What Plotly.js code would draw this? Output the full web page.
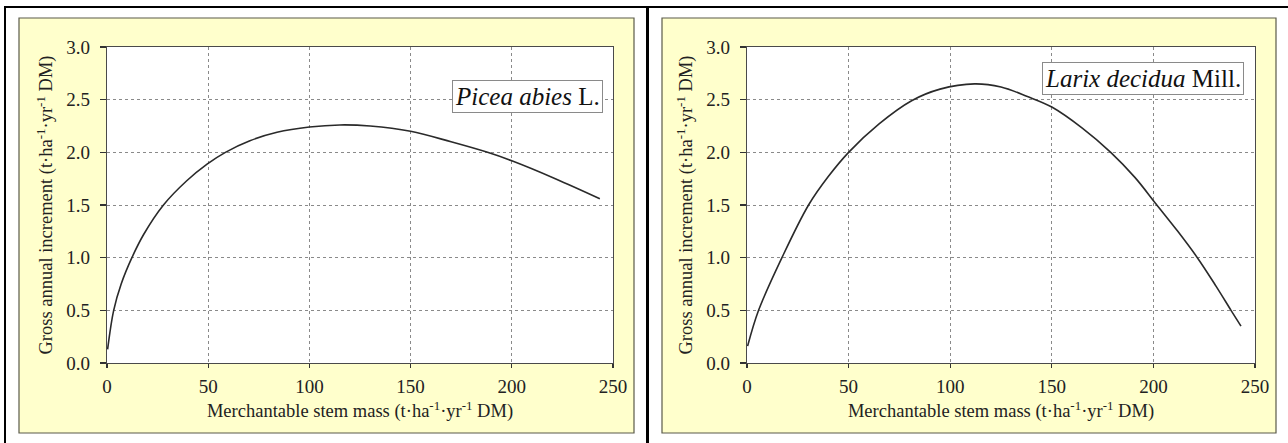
<!DOCTYPE html>
<html>
<head>
<meta charset="utf-8">
<script src="https://cdn.plot.ly/plotly-3.0.1.min.js"></script>
<style>html,body{margin:0;padding:0;background:#fff;}#chart{width:1288px;height:443px;}</style>
</head>
<body>
<div id="chart"></div>
<script>
// Picea abies L. — gross annual increment vs merchantable stem mass
const piceaX = [0.3, 3.3, 7, 12.3, 18.1, 27.9, 39.4, 49.6, 58.5, 70.6, 84, 100, 115, 130, 150, 170, 188, 200, 221.5, 243.5];
const piceaY = [0.13, 0.50, 0.75, 1.00, 1.22, 1.50, 1.73, 1.89, 2.00, 2.11, 2.19, 2.24, 2.26, 2.25, 2.20, 2.10, 2.00, 1.92, 1.75, 1.56];
// Larix decidua Mill.
const larixX = [0.3, 5.7, 17.2, 30.3, 40, 50, 65, 81, 95, 112, 125, 138, 150, 165, 179, 191, 201.3, 212, 221.8, 230.8, 238.2, 243.1];
const larixY = [0.16, 0.50, 1.00, 1.50, 1.77, 2.00, 2.27, 2.49, 2.60, 2.65, 2.62, 2.53, 2.43, 2.23, 2.00, 1.76, 1.51, 1.25, 0.995, 0.73, 0.50, 0.35];

const speciesLabels = ['<i>Picea abies</i> L.', '<i>Larix decidua</i> Mill.'];
const xTitle = 'Merchantable stem mass (t·ha<sup>-1</sup>·yr<sup>-1</sup> DM)';
const yTitle = 'Gross annual increment (t·ha<sup>-1</sup>·yr<sup>-1</sup> DM)';

const W = 1288, H = 443;
const px = v => v / W;
const py = v => 1 - v / H;
const FONT = 'Liberation Serif';
const FS = 19;

const lineStyle = {color: '#2a2a2a', width: 1.6, shape: 'spline', smoothing: 1};
const traces = [
  {x: piceaX, y: piceaY, type: 'scatter', mode: 'lines', line: lineStyle, xaxis: 'x', yaxis: 'y', hoverinfo: 'x+y'},
  {x: larixX, y: larixY, type: 'scatter', mode: 'lines', line: lineStyle, xaxis: 'x2', yaxis: 'y2', hoverinfo: 'x+y'}
];

function xa(domain, anchor) {
  return {
    domain: domain, anchor: anchor, range: [0, 250], dtick: 50, tick0: 0,
    showgrid: true, gridcolor: '#8a8a8a', griddash: 'dot', gridwidth: 1,
    zeroline: false, showline: true, mirror: true, linecolor: '#4a4a4a', linewidth: 1.2,
    ticks: 'outside', ticklen: 4, tickcolor: '#333', tickwidth: 1.2, ticklabelstandoff: 2,
    tickfont: {family: FONT, size: FS, color: '#222'},
    title: {text: xTitle, font: {family: FONT, size: 18.5, color: '#222'}, standoff: 8},
    fixedrange: true
  };
}
function ya(domain, anchor) {
  return {
    domain: domain, anchor: anchor, range: [0, 3], dtick: 0.5, tick0: 0, tickformat: '.1f',
    showgrid: true, gridcolor: '#8a8a8a', griddash: 'dot', gridwidth: 1,
    zeroline: false, showline: true, mirror: true, linecolor: '#4a4a4a', linewidth: 1.2,
    ticks: 'outside', ticklen: 6, tickcolor: '#333', tickwidth: 1.2, ticklabelstandoff: 6,
    tickfont: {family: FONT, size: FS, color: '#222'},
    title: {text: yTitle, font: {family: FONT, size: 18.5, color: '#222'}, standoff: 8},
    fixedrange: true
  };
}

const yDom = [py(363), py(47)];
const shapes = [
  {type: 'rect', xref: 'paper', yref: 'paper', x0: px(19), x1: px(634), y0: py(433), y1: py(18), fillcolor: '#FFFFCC', line: {color: '#5a5a4a', width: 1.2}, layer: 'below'},
  {type: 'rect', xref: 'paper', yref: 'paper', x0: px(662), x1: px(1276), y0: py(433), y1: py(18), fillcolor: '#FFFFCC', line: {color: '#5a5a4a', width: 1.2}, layer: 'below'},
  {type: 'rect', xref: 'paper', yref: 'paper', x0: px(107), x1: px(613), y0: py(363), y1: py(47), fillcolor: '#ffffff', line: {width: 0}, layer: 'below'},
  {type: 'rect', xref: 'paper', yref: 'paper', x0: px(747), x1: px(1255), y0: py(363), y1: py(47), fillcolor: '#ffffff', line: {width: 0}, layer: 'below'},
  {type: 'rect', xref: 'paper', yref: 'paper', x0: px(4), x1: px(1288), y0: py(8), y1: py(6), fillcolor: '#000', line: {width: 0}, layer: 'above'},
  {type: 'rect', xref: 'paper', yref: 'paper', x0: px(4), x1: px(6), y0: py(443), y1: py(6), fillcolor: '#000', line: {width: 0}, layer: 'above'},
  {type: 'rect', xref: 'paper', yref: 'paper', x0: px(646), x1: px(649), y0: py(443), y1: py(6), fillcolor: '#000', line: {width: 0}, layer: 'above'}
];

const annotations = [
  {xref: 'paper', yref: 'paper', x: px(527.5), y: py(96.5), xanchor: 'center', yanchor: 'middle', showarrow: false,
   text: speciesLabels[0], font: {family: FONT, size: 25, color: '#111'}, bgcolor: '#ffffff', bordercolor: '#8a8a8a', borderwidth: 1, borderpad: 2},
  {xref: 'paper', yref: 'paper', x: px(1142.5), y: py(78.5), xanchor: 'center', yanchor: 'middle', showarrow: false,
   text: speciesLabels[1], font: {family: FONT, size: 25, color: '#111'}, bgcolor: '#ffffff', bordercolor: '#8a8a8a', borderwidth: 1, borderpad: 2}
];

const layout = {
  width: W, height: H, margin: {l: 0, r: 0, t: 0, b: 0},
  paper_bgcolor: '#ffffff', plot_bgcolor: '#ffffff', showlegend: false,
  xaxis: xa([px(107), px(613)], 'y'),
  yaxis: ya(yDom, 'x'),
  xaxis2: xa([px(747), px(1255)], 'y2'),
  yaxis2: ya(yDom, 'x2'),
  shapes: shapes, annotations: annotations,
  font: {family: FONT, size: FS}
};

Plotly.newPlot('chart', traces, layout, {displayModeBar: false, staticPlot: true});
</script>
</body>
</html>
